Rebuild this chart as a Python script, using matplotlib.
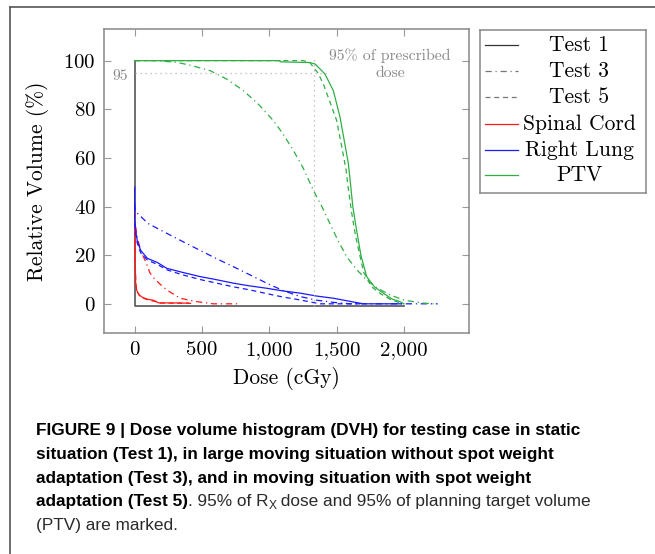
import matplotlib
matplotlib.use("Agg")
import matplotlib.pyplot as plt
from matplotlib.lines import Line2D
from matplotlib.ticker import FuncFormatter

# ---- data (dose in cGy, volume in %) ----
ptv_t1_dose = [0, 1080, 1080, 1300, 1340, 1413, 1475, 1525, 1560, 1587, 1600, 1620, 1649, 1680, 1723, 1780, 1846, 1910, 1970, 2000]
ptv_t1_vol = [100, 100, 99.5, 99.2, 98.6, 94.5, 87.7, 76.8, 66, 57.7, 50.8, 40, 30, 20, 11.2, 7, 4.4, 2, 0.9, 0]
ptv_t3_dose = [0, 150, 312, 420, 559, 680, 807, 920, 1029, 1100, 1178, 1250, 1327, 1390, 1450, 1510, 1574, 1650, 1723, 1800, 1896, 2000, 2143, 2220]
ptv_t3_vol = [100, 100, 99.3, 98, 95.9, 92.5, 87.7, 82, 75.4, 70, 63.1, 56, 46.7, 40, 33, 26, 19.4, 14, 9.8, 6.5, 3.7, 1.5, 0.3, 0]
ptv_t5_dose = [0, 1250, 1300, 1327, 1360, 1401, 1463, 1500, 1540, 1570, 1585, 1610, 1640, 1700, 1760, 1830, 1900, 1960, 2000]
ptv_t5_vol = [100, 100, 99.3, 97.3, 95, 90.4, 81, 75.4, 64, 55, 48, 38, 28, 13, 7, 4, 1.8, 0.6, 0]

lung_t1_dose = [0, 0, 10, 19, 44, 94, 168, 238, 350, 485, 600, 732, 850, 980, 1100, 1228, 1350, 1475, 1600, 1698, 1980]
lung_t1_vol = [48, 35, 29, 26, 22, 18.7, 17, 14.6, 13, 11.2, 10, 8.5, 7.4, 6.4, 5.3, 4.4, 3.2, 2.3, 1, 0, 0]
lung_t3_dose = [0, 5, 100, 238, 360, 485, 610, 732, 860, 980, 1100, 1228, 1350, 1475, 1600, 2250]
lung_t3_vol = [41, 38, 33, 29, 25.5, 22, 18.5, 15.3, 11.8, 8.5, 5.5, 3, 1.5, 0.6, 0, 0]
lung_t5_dose = [0, 10, 19, 44, 94, 168, 238, 350, 485, 600, 732, 857, 980, 1100, 1228, 1300, 1376, 1700]
lung_t5_vol = [33, 28, 25, 21, 18, 16.2, 14, 12, 10, 8.6, 7, 5.7, 4.2, 2.8, 1.6, 0.8, 0, 0]

cord_t1_dose = [0, 2, 4, 7, 15, 32, 60, 94, 143, 176, 400]
cord_t1_vol = [32, 25, 16, 8.5, 5.5, 3.7, 2.6, 1.9, 1.4, 0.4, 0.3]
cord_t3_dose = [0, 5, 20, 50, 82, 114, 143, 190, 238, 337, 460, 584, 768]
cord_t3_vol = [38, 32, 27, 21, 17.3, 12.6, 10.5, 8, 5.7, 2.3, 0.9, 0, 0]
cord_t5_dose = [0, 2, 5, 9, 18, 36, 65, 100, 150, 190, 420]
cord_t5_vol = [30, 23, 15, 8, 5, 3.3, 2.3, 1.6, 1.0, 0.3, 0.2]

base_dose = [0, 0, 2000]
base_vol = [100, -1, -1]

rx95_dose = 1330
xticks = [0, 500, 1000, 1500, 2000]
yticks = [0, 20, 40, 60, 80, 100]

legend_labels = ["Test 1", "Test 3", "Test 5", "Spinal Cord", "Right Lung", "PTV"]

RED = "#ff1a1a"
BLUE = "#1a1aff"
GREEN = "#2fae45"
GRAY = "#8a8a8a"
dashdot = (0, (5, 3, 1, 3))
dashed = (0, (4, 3))

W, H = 655, 554
fig = plt.figure(figsize=(W / 100, H / 100), dpi=100)
plt.rcParams['axes.formatter.use_mathtext'] = True


def fx(px):
    return px / W


def fy(py):
    return 1 - py / H


cm = "cmr10"

ax = fig.add_axes([fx(104), fy(333), fx(469) - fx(104), fy(29) - fy(333)])
lw = 0.9
ax.plot(base_dose, base_vol, color="#555555", lw=1.2)
ax.plot(cord_t1_dose, cord_t1_vol, color=RED, lw=lw)
ax.plot(cord_t3_dose, cord_t3_vol, color=RED, lw=lw, ls=dashdot)
ax.plot(cord_t5_dose, cord_t5_vol, color=RED, lw=lw, ls=dashed)
ax.plot(lung_t1_dose, lung_t1_vol, color=BLUE, lw=lw)
ax.plot(lung_t3_dose, lung_t3_vol, color=BLUE, lw=lw, ls=dashdot)
ax.plot(lung_t5_dose, lung_t5_vol, color=BLUE, lw=lw, ls=dashed)
ax.plot(ptv_t1_dose, ptv_t1_vol, color=GREEN, lw=lw)
ax.plot(ptv_t3_dose, ptv_t3_vol, color=GREEN, lw=lw, ls=dashdot)
ax.plot(ptv_t5_dose, ptv_t5_vol, color=GREEN, lw=lw, ls=dashed)

# 95% markers
ax.plot([0, 1430], [95, 95], color="#b5b5b5", lw=0.9, ls=(0, (1, 3)))
ax.plot([rx95_dose, rx95_dose], [-1, 102], color="#b5b5b5", lw=0.9, ls=(0, (1, 3)))
ax.text(-109, 93.5, "95", color=GRAY, fontsize=11.3, family=cm, ha="center", va="center")
ax.text(1896, 98.4, "95% of prescribed\ndose", color=GRAY, fontsize=11.3, family=cm,
        ha="center", va="center", multialignment="center", linespacing=1.3)

ax.set_xlim(-228, 2483)
ax.set_ylim(-12, 113)
ax.set_xticks(xticks)
ax.set_yticks(yticks)
ax.xaxis.set_major_formatter(FuncFormatter(lambda v, p: f"{v:,.0f}"))
ax.tick_params(direction="in", top=True, right=True, length=5, color="#999999",
               labelsize=15, pad=6)
for lab in ax.get_xticklabels() + ax.get_yticklabels():
    lab.set_family(cm)
for sp in ax.spines.values():
    sp.set_color("#888888")
    sp.set_linewidth(1.1)

ax.set_xlabel("Dose (cGy)", family=cm, fontsize=15.5, va="center")
ax.xaxis.set_label_coords(0.5, (333 - 378) / 304)
ax.set_ylabel("Relative Volume (%)", family=cm, fontsize=15.5, va="center", ha="center")
ax.yaxis.set_label_coords((38 - 104) / 365, 0.5)

# ---- legend box, centred text as in the original ----
lax = fig.add_axes([fx(480), fy(193), fx(646) - fx(480), fy(30) - fy(193)])
lax.set_xlim(480, 646)
lax.set_ylim(193, 30)
lax.set_xticks([])
lax.set_yticks([])
for sp in lax.spines.values():
    sp.set_color("#888888")
    sp.set_linewidth(1.1)
handle_styles = [("#333333", "-"), ("#777777", dashdot), ("#777777", dashed),
                 (RED, "-"), (BLUE, "-"), (GREEN, "-")]
entry_y = [45, 71, 97, 124, 150, 175]
for (c, ls), yy, lab in zip(handle_styles, entry_y, legend_labels):
    lax.plot([485, 518], [yy, yy], color=c, ls=ls, lw=0.9)
    lax.text(579, yy, lab, family=cm, fontsize=15.5, ha="center", va="center")

# outer frame of the figure panel
fig.add_artist(Line2D([fx(10), fx(10)], [fy(7), 0], transform=fig.transFigure, color="#555555", lw=1.2))
fig.add_artist(Line2D([fx(10), 1], [fy(7), fy(7)], transform=fig.transFigure, color="#555555", lw=1.2))

# ---- caption, runs of bold and regular text ----
renderer = fig.canvas.get_renderer()
cap_font = "Liberation Sans"
cap_size = 12.4


def run(x, y, s, weight="normal", color="#2a2a2a", size=cap_size):
    t = fig.text(fx(x), fy(y), s, family=cap_font, fontsize=size, weight=weight,
                 color=color, va="baseline", ha="left")
    return x + t.get_window_extent(renderer).width


x0 = 36
base = [435, 459, 483, 506, 530]
run(x0, base[0], "FIGURE 9 | Dose volume histogram (DVH) for testing case in static", "bold", "black")
run(x0, base[1], "situation (Test 1), in large moving situation without spot weight", "bold", "black")
run(x0, base[2], "adaptation (Test 3), and in moving situation with spot weight", "bold", "black")
x = run(x0, base[3], "adaptation (Test 5)", "bold", "black")
x = run(x, base[3], ". 95% of R")
x = run(x, base[3] + 3, "X", size=cap_size * 0.7)
run(x, base[3], " dose and 95% of planning target volume")
run(x0, base[4], "(PTV) are marked.")

fig.savefig("out.png", dpi=100)
